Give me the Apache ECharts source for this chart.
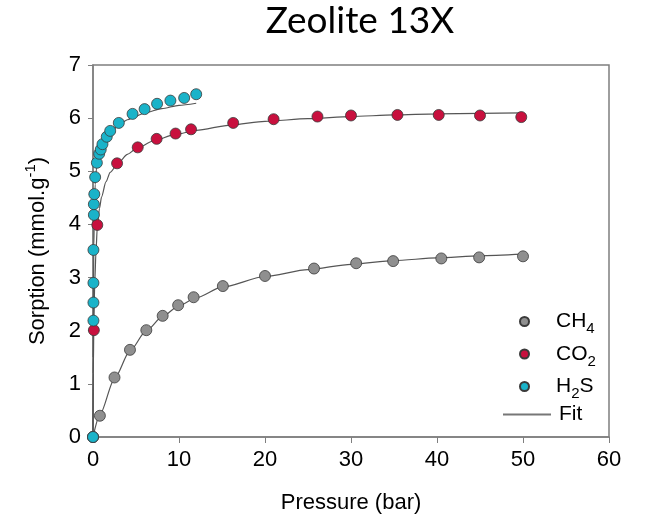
<!DOCTYPE html>
<html>
<head>
<meta charset="utf-8">
<script src="https://cdn.jsdelivr.net/npm/echarts@6/dist/echarts.min.js"></script>
<style>
  html, body { margin: 0; padding: 0; background: #fff; }
  #chart { width: 645px; height: 523px; }
</style>
</head>
<body>
<div id="chart"></div>
<script>
// Measured sorption points, [pressure (bar), sorption (mmol/g)]
const ch4Points = [
  [0, 0], [0.8, 0.40], [2.5, 1.12], [4.3, 1.64], [6.2, 2.01], [8.1, 2.28],
  [9.9, 2.48], [11.7, 2.63], [15.1, 2.84], [20.0, 3.03], [25.7, 3.17],
  [30.6, 3.27], [34.9, 3.31], [40.5, 3.36], [44.9, 3.38], [50.0, 3.40]
];
const co2Points = [
  [0, 0], [0.1, 2.01], [0.5, 3.99], [2.8, 5.15], [5.2, 5.45], [7.4, 5.61],
  [9.6, 5.71], [11.4, 5.79], [16.3, 5.91], [21.0, 5.98], [26.1, 6.03],
  [30.0, 6.05], [35.4, 6.06], [40.2, 6.06], [45.0, 6.05], [49.8, 6.02]
];
const h2sPoints = [
  [0, 0], [0.05, 2.19], [0.05, 2.53], [0.05, 2.90], [0.05, 3.52],
  [0.1, 4.18], [0.1, 4.38], [0.15, 4.57], [0.25, 4.89], [0.45, 5.16],
  [0.72, 5.33], [0.9, 5.41], [1.1, 5.51], [1.6, 5.65], [2.0, 5.76],
  [3.0, 5.91], [4.6, 6.08], [6.0, 6.17], [7.45, 6.27], [9.0, 6.33],
  [10.6, 6.38], [12.0, 6.45]
];

// Fitted isotherm curves
const ch4Fit = [
  [0, 0], [0.8, 0.42], [2.5, 1.10], [4.3, 1.62], [6.2, 2.00], [8.1, 2.27],
  [10, 2.47], [12, 2.62], [15, 2.82], [20, 3.02], [25, 3.15], [30, 3.25],
  [35, 3.32], [40, 3.37], [45, 3.41], [50, 3.44]
];
const co2Fit = [
  [0, 0], [0.03, 1.2], [0.1, 2.1], [0.2, 2.9], [0.35, 3.5], [0.5, 3.95],
  [0.75, 4.3], [1, 4.52], [1.5, 4.8], [2, 4.98], [3, 5.17], [4, 5.32], [5, 5.42],
  [7, 5.57], [9.5, 5.69], [12, 5.77], [16, 5.87], [20, 5.94], [25, 5.99],
  [30, 6.03], [35, 6.06], [40, 6.08], [45, 6.09], [50, 6.10]
];
const h2sFit = [
  [0, 0], [0.02, 1.5], [0.05, 2.6], [0.1, 3.6], [0.15, 4.2], [0.25, 4.75],
  [0.4, 5.05], [0.6, 5.25], [1, 5.45], [1.5, 5.6], [2, 5.72], [3, 5.87], [4, 5.97],
  [5, 6.04], [6, 6.10], [8, 6.18], [10, 6.24], [12, 6.28]
];

const xTicks = [0, 10, 20, 30, 40, 50, 60];
const yTicks = [0, 1, 2, 3, 4, 5, 6, 7];

const gasNames = { CH4: '{n|CH}{s|4}', CO2: '{n|CO}{s|2}', H2S: '{n|H}{s|2}{n|S}' };
const legendRich = {
  n: { fontFamily: 'Liberation Sans', fontSize: 21, color: '#000', lineHeight: 22, verticalAlign: 'middle' },
  s: { fontFamily: 'Liberation Sans', fontSize: 15, color: '#000', lineHeight: 30, verticalAlign: 'bottom' }
};

const chart = echarts.init(document.getElementById('chart'), null, { renderer: 'canvas' });

function scatter(name, data, color) {
  return {
    name: name, type: 'scatter', data: data, symbol: 'circle', symbolSize: 11, z: 5,
    itemStyle: { color: color, opacity: 1, borderColor: '#3a3a3a', borderWidth: 0.8 }
  };
}
function fit(data) {
  return {
    name: 'Fit', type: 'line', data: data, showSymbol: false, smooth: 0.25,
    smoothMonotone: 'x', z: 3,
    lineStyle: { color: '#555', width: 1.2 }
  };
}

chart.setOption({
  animation: false,
  backgroundColor: '#fff',
  title: {
    text: 'Zeolite 13X', left: 355, top: -2, textAlign: 'center',
    textStyle: { fontFamily: 'Lato', fontSize: 37, fontWeight: 'normal', color: '#000' }
  },
  grid: {
    left: 93, right: 36, top: 65, bottom: 86, show: true,
    borderColor: '#7f7f7f', borderWidth: 1.5, backgroundColor: 'transparent'
  },
  legend: [
    {
      data: ['CH4', 'CO2', 'H2S'], orient: 'vertical', left: 514, top: 306,
      icon: 'circle', itemWidth: 9, itemHeight: 9, itemGap: 7,
      formatter: function (n) { return gasNames[n]; },
      textStyle: { padding: [0, 0, 0, 22], rich: legendRich }
    },
    {
      data: ['Fit'], orient: 'vertical', left: 498, top: 399,
      itemWidth: 48, itemHeight: 2, icon: 'rect',
      itemStyle: { color: '#777' },
      textStyle: { fontFamily: 'Liberation Sans', fontSize: 21, color: '#000', padding: [0, 0, 0, 3] }
    }
  ],
  xAxis: {
    type: 'value', min: xTicks[0], max: xTicks[xTicks.length - 1], interval: 10,
    name: 'Pressure (bar)', nameLocation: 'middle', nameGap: 55,
    nameTextStyle: { fontFamily: 'Liberation Sans', fontSize: 22, color: '#000' },
    axisLine: { show: true, lineStyle: { color: '#7f7f7f', width: 1.5 } },
    axisTick: { show: true, length: 6, inside: false, lineStyle: { color: '#7f7f7f' } },
    axisLabel: { margin: 12, fontFamily: 'Liberation Sans', fontSize: 22, color: '#000' },
    splitLine: { show: false }
  },
  yAxis: {
    type: 'value', min: yTicks[0], max: yTicks[yTicks.length - 1], interval: 1,
    name: '{a|Sorption (mmol.g}{b|-1}{a|)}', nameLocation: 'middle', nameGap: 44,
    nameRotate: 90,
    nameTextStyle: {
      rich: {
        a: { fontFamily: 'Liberation Sans', fontSize: 22, color: '#000', lineHeight: 26, verticalAlign: 'bottom' },
        b: { fontFamily: 'Liberation Sans', fontSize: 15, color: '#000', lineHeight: 26, verticalAlign: 'top' }
      }
    },
    axisLine: { show: true, lineStyle: { color: '#7f7f7f', width: 1.5 } },
    axisTick: { show: true, length: 5, inside: false, lineStyle: { color: '#7f7f7f' } },
    axisLabel: { margin: 12, fontFamily: 'Liberation Sans', fontSize: 22, color: '#000' },
    splitLine: { show: false }
  },
  series: [
    fit(ch4Fit), fit(co2Fit), fit(h2sFit),
    scatter('CH4', ch4Points, '#8f8f8f'),
    scatter('CO2', co2Points, '#c8103e'),
    scatter('H2S', h2sPoints, '#1ab3c9')
  ]
});
</script>
</body>
</html>
